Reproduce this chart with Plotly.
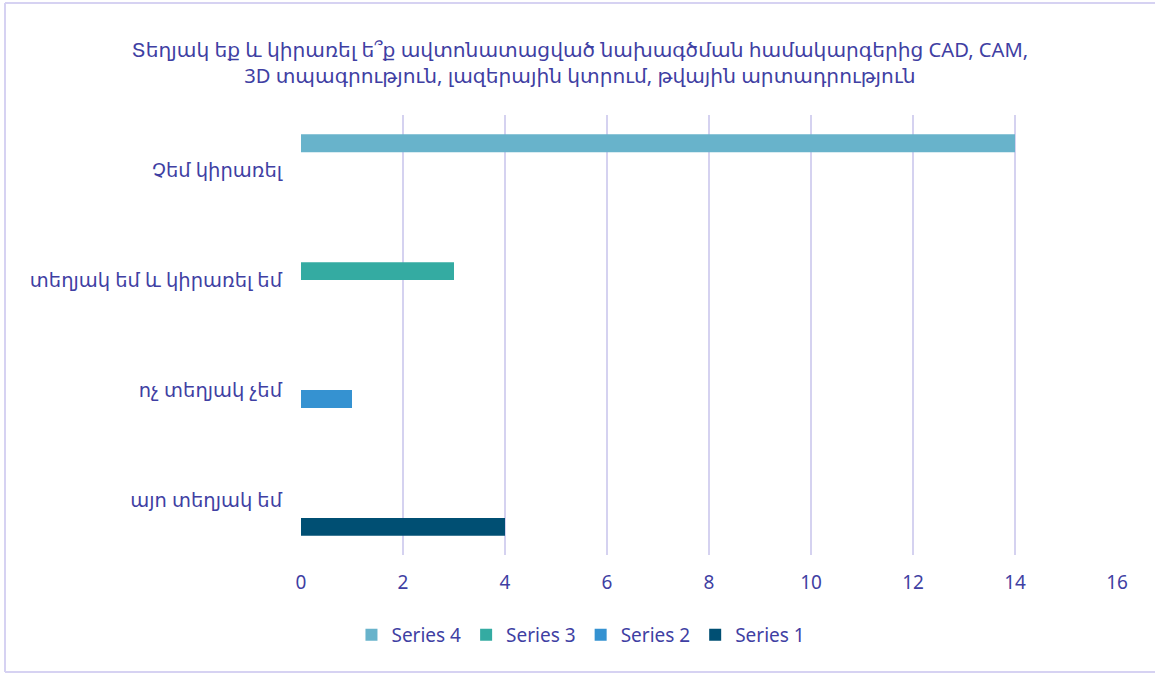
import plotly.graph_objects as go

categories = ["այո տեղյակ եմ", "ոչ տեղյակ չեմ", "տեղյակ եմ և կիրառել եմ", "Չեմ կիրառել"]
series_names = ["Series 1", "Series 2", "Series 3", "Series 4"]
series_1 = [4, None, None, None]
series_2 = [None, 1, None, None]
series_3 = [None, None, 3, None]
series_4 = [None, None, None, 14]
colors = ["#004F73", "#3592D1", "#34ABA2", "#68B3CB"]

title = ("Տեղյակ եք և կիրառել ե՞ք ավտոնատացված նախագծման համակարգերից CAD, CAM,<br>"
         "3D տպագրություն, լազերային կտրում, թվային արտադրություն")

text_color = "#3F3FA3"
grid_color = "#D5D2F0"
border_color = "#D6D2F2"
font_family = "Noto Sans, DejaVu Sans, sans-serif"

W, H = 1155, 674
ml, mr, mt, mb = 301, 38, 115, 119

fig = go.Figure()
for name, vals, col in zip(series_names, [series_1, series_2, series_3, series_4], colors):
    fig.add_trace(go.Bar(y=categories, x=vals, name=name, orientation="h",
                         marker=dict(color=col, line=dict(width=0))))

# figure border (top, left, bottom), expressed in paper coords
pw, ph = W - ml - mr, H - mt - mb
def px_x(x):
    return (x - ml) / pw
def px_y(y):
    return (H - mb - y) / ph

for x0, y0, x1, y1 in [(5, 3, 1170, 3), (5, 3, 5, 672), (5, 672, 1170, 672)]:
    fig.add_shape(type="line", xref="paper", yref="paper",
                  x0=px_x(x0), y0=px_y(y0), x1=px_x(x1), y1=px_y(y1),
                  line=dict(color=border_color, width=2), layer="below")

fig.update_layout(
    width=W, height=H,
    barmode="group", bargap=0.35, bargroupgap=0,
    plot_bgcolor="white", paper_bgcolor="white",
    margin=dict(l=ml, r=mr, t=mt, b=mb),
    font=dict(family=font_family, color=text_color, size=19),
    title=dict(text=title, x=0.502, xref="container", xanchor="center",
               y=1 - 57 / H, yref="container", yanchor="middle",
               font=dict(size=20.2, color=text_color)),
    xaxis=dict(range=[0, 16], dtick=2, showgrid=True, gridcolor=grid_color,
               gridwidth=2, zeroline=False, showline=False,
               ticks="outside", ticklen=10, tickcolor="rgba(0,0,0,0)",
               tickfont=dict(size=19)),
    yaxis=dict(showgrid=False, zeroline=False, showline=False,
               ticks="outside", ticklen=14, tickcolor="rgba(0,0,0,0)",
               tickfont=dict(size=19.5)),
    legend=dict(orientation="h", traceorder="reversed",
                xref="container", yref="container",
                x=0.503, xanchor="center", y=1 - 635 / H, yanchor="middle",
                font=dict(size=19), itemwidth=30),
    showlegend=True,
)

fig.write_html("out.html", config={"displayModeBar": False},
               post_script="document.body.style.margin='0';")
